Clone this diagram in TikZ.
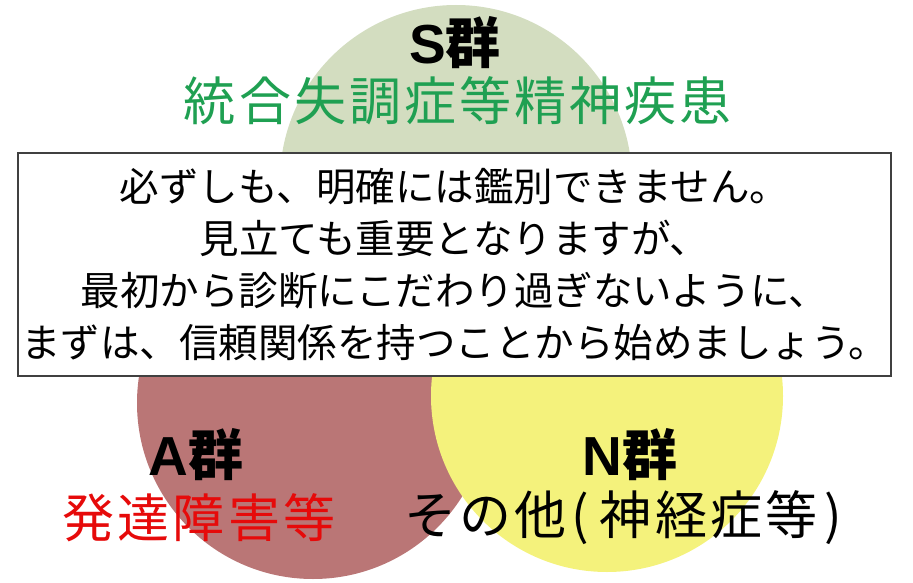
\documentclass[tikz,border=0pt]{standalone}
\usepackage{fontspec}
\setmainfont{Noto Sans CJK JP}
\newfontfamily\latf{Liberation Sans}
\definecolor{sgreen}{HTML}{D3DDC0}
\definecolor{ared}{HTML}{BA7676}
\definecolor{nyellow}{HTML}{F4F27C}
\definecolor{tgreen}{HTML}{1FA052}
\definecolor{tred}{HTML}{E60A0A}
\tikzset{
  circ/.style={circle, minimum size=352pt, inner sep=0pt, draw=none},
  grp/.style={font=\fontsize{55}{55}\selectfont\bfseries, text=black, inner sep=0pt},
  big/.style={font=\fontsize{52}{52}\selectfont\addfontfeatures{LetterSpace=6}, inner sep=0pt},
  msgbox/.style={draw=black!75, line width=1.2pt, fill=white, minimum width=873pt, minimum height=223pt, inner sep=0pt, align=center, font=\fontsize{39.5}{52}\selectfont}
}
\begin{document}
\begin{tikzpicture}[x=1pt,y=1pt]
\useasboundingbox (0,0) rectangle (913,582);
\node[circ, fill=sgreen] (S) at (456,401) {};
\node[circ, fill=ared] (A) at (313,179) {};
\node[circ, fill=nyellow] (N) at (607,186) {};
\node[msgbox] (msg) at (454.5,317.5) {必ずしも、明確には鑑別できません。\\見立ても重要となりますが、\\最初から診断にこだわり過ぎないように、\\まずは、信頼関係を持つことから始めましょう。};
\node[grp] (slab) at (455,539) {{\latf\bfseries S}群};
\node[big, text=tgreen] (sdesc) at (458,481) {統合失調症等精神疾患};
\node[grp] (alab) at (196,127) {{\latf\bfseries A}群};
\node[big, text=tred] (adesc) at (199,64) {発達障害等};
\node[grp] (nlab) at (630,127) {{\latf\bfseries N}群};
\node[big, text=black] (ndesc) at (623,64) {その他\hspace{5pt}(\hspace{11pt}神経症等\hspace{7pt})};
\end{tikzpicture}
\end{document}
